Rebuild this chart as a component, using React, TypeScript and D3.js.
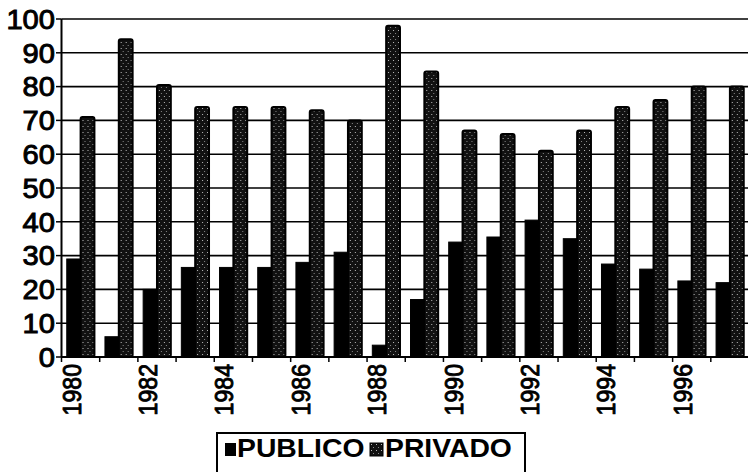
import React from "react";
import * as d3 from "d3";

const years = ["1980","1981","1982","1983","1984","1985","1986","1987","1988","1989","1990","1991","1992","1993","1994","1995","1996","1997"];
const publico = [29, 6, 20, 26.5, 26.5, 26.5, 28, 31, 3.5, 17, 34, 35.5, 40.5, 35, 27.5, 26, 22.5, 22];
const privado = [71, 94, 80.5, 74, 74, 74, 73, 70, 98, 84.5, 67, 66, 61, 67, 74, 76, 80, 80];
const yTicks = [0, 10, 20, 30, 40, 50, 60, 70, 80, 90, 100];
const xLabelYears = ["1980","1982","1984","1986","1988","1990","1992","1994","1996"];
const seriesNames = ["PUBLICO", "PRIVADO"];

const W = 748, H = 472;

export default function App() {
  const x = d3.scaleBand<string>().domain(years).range([61.5, 749]).padding(0);
  const sub = d3.scaleBand<string>().domain(seriesNames).range([0, x.bandwidth()]).paddingInner(0).paddingOuter(0.38);
  const y = d3.scaleLinear().domain([0, 100]).range([357, 19]);
  const font = "'Liberation Sans', Arial, sans-serif";
  const boundaries = years.map((yr) => x(yr)!).concat([x(years[years.length - 1])! + x.bandwidth()]);

  return (
    <svg width={W} height={H} style={{ position: "absolute", left: 0, top: 0, background: "#fff" }}>
      <defs>
        <pattern id="priv" width="5" height="6" patternUnits="userSpaceOnUse">
          <rect width="5" height="6" fill="#111" />
          <rect x="1" y="0" width="1" height="1" fill="#bbb" />
          <rect x="3" y="3" width="1" height="1" fill="#888" />
        </pattern>
      </defs>
      {/* gridlines */}
      {yTicks.map((t) => (
        <line key={"g" + t} x1={61.5} x2={W} y1={y(t)} y2={y(t)} stroke="#000" strokeWidth={1.6} />
      ))}
      {/* bars */}
      {years.map((yr, i) => (
        <g key={yr} transform={`translate(${x(yr)},0)`}>
          <rect x={sub("PUBLICO")} y={y(publico[i])} width={sub.bandwidth()} height={y(0) - y(publico[i])} fill="#000" stroke="#000" strokeWidth={1} />
          <rect x={sub("PRIVADO")} y={y(privado[i])} width={sub.bandwidth()} height={y(0) - y(privado[i])} fill="url(#priv)" stroke="#000" strokeWidth={2} rx={2} />
        </g>
      ))}
      {/* axes */}
      <line x1={61.5} x2={61.5} y1={y(100)} y2={y(0)} stroke="#000" strokeWidth={2} />
      <line x1={61.5} x2={W} y1={y(0)} y2={y(0)} stroke="#000" strokeWidth={2} />
      {yTicks.map((t) => (
        <line key={"yt" + t} x1={56} x2={61.5} y1={y(t)} y2={y(t)} stroke="#000" strokeWidth={1.5} />
      ))}
      {boundaries.map((bx, i) => (
        <line key={"xt" + i} x1={bx} x2={bx} y1={y(0)} y2={y(0) + 5} stroke="#000" strokeWidth={1.5} />
      ))}
      {/* y labels */}
      {yTicks.map((t) => (
        <g key={"yl" + t} transform={`translate(55,${y(t)}) scale(1.12,1.05)`}>
          <text x={0} y={0} dy="0.36em" textAnchor="end" fontFamily={font} fontSize={26} fill="#000" stroke="#000" strokeWidth={0.9}>
            {t}
          </text>
        </g>
      ))}
      {/* x labels */}
      {xLabelYears.map((yr) => (
        <g key={"xl" + yr} transform={`translate(${x(yr)! + x.bandwidth() / 2},364) rotate(-90) scale(1.05,1.15)`}>
          <text x={0} y={0} textAnchor="end" fontFamily={font} fontSize={22} fill="#000" stroke="#000" strokeWidth={0.8}>
            {yr}
          </text>
        </g>
      ))}
      {/* legend */}
      <rect x={217} y={433} width={308} height={50} fill="#fff" stroke="#000" strokeWidth={2} />
      <rect x={225} y={443} width={11} height={13} fill="#000" />
      <g transform="translate(237,457) scale(1.18,1.05)">
        <text x={0} y={0} fontFamily={font} fontSize={24} fontWeight="bold" fill="#000">{seriesNames[0]}</text>
      </g>
      <rect x={370} y={443} width={13} height={13} fill="url(#priv)" stroke="#000" strokeWidth={1} />
      <g transform="translate(385,457) scale(1.18,1.05)">
        <text x={0} y={0} fontFamily={font} fontSize={24} fontWeight="bold" fill="#000">{seriesNames[1]}</text>
      </g>
    </svg>
  );
}
